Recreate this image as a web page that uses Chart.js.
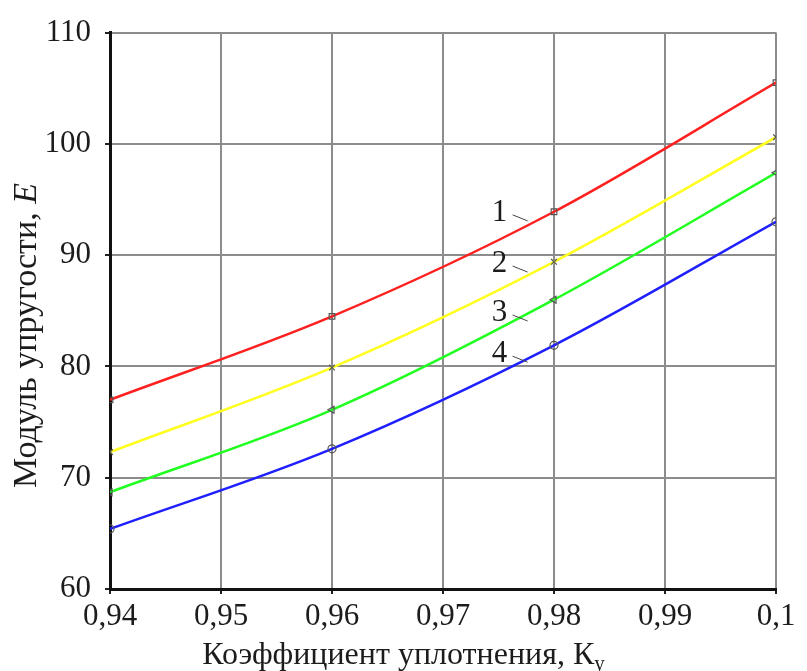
<!DOCTYPE html>
<html>
<head>
<meta charset="utf-8">
<script src="https://cdn.jsdelivr.net/npm/chart.js@4/dist/chart.umd.min.js"></script>
<style>
  html, body { margin: 0; padding: 0; background: #fff; }
  #wrap { width: 807px; height: 671px; }
</style>
</head>
<body>
<div id="wrap"><canvas id="chart"></canvas></div>
<script>
// values
const xValues = [0.94, 0.96, 0.98, 1.0];
const curve1 = [77.0, 84.5, 93.9, 105.5];
const curve2 = [72.3, 79.9, 89.4, 100.6];
const curve3 = [68.7, 76.1, 86.0, 97.4];
const curve4 = [65.4, 72.6, 81.9, 93.0];
const xTicks = [0.94, 0.95, 0.96, 0.97, 0.98, 0.99, 1.0];
const xTickLabels = ['0,94', '0,95', '0,96', '0,97', '0,98', '0,99', '0,1'];
const yTicks = [60, 70, 80, 90, 100, 110];
const curveNames = ['1', '2', '3', '4'];
const nameX = [0.9751, 0.9751, 0.9751, 0.9751];
const nameY = [93.8, 89.2, 84.8, 81.1];

const serif = "'Liberation Serif', 'DejaVu Serif', serif";
const ink = '#1c1c1c';

function makeSet(vals, color, style, rot) {
    return {
        data: xValues.map((x, i) => ({ x: x, y: vals[i] })),
        borderColor: color,
        borderWidth: 2.5,
        cubicInterpolationMode: 'monotone',
        pointStyle: style,
        pointRotation: rot || 0,
        pointRadius: 4,
        pointBorderWidth: 1.2,
        pointBorderColor: '#555',
        pointBackgroundColor: 'rgba(0,0,0,0)'
    };
}

// numbers 1-4 with short leader lines
const curveLabels = {
    id: 'curveLabels',
    afterDatasetsDraw(chart) {
        const ctx = chart.ctx;
        const xs = chart.scales.x, ys = chart.scales.y;
        ctx.save();
        ctx.font = '31px ' + serif;
        ctx.fillStyle = ink;
        ctx.strokeStyle = '#444';
        ctx.lineWidth = 1;
        ctx.textAlign = 'center';
        ctx.textBaseline = 'middle';
        curveNames.forEach((t, i) => {
            const px = xs.getPixelForValue(nameX[i]);
            const py = ys.getPixelForValue(nameY[i]);
            ctx.fillText(t, px, py);
            ctx.beginPath();
            ctx.moveTo(px + 13, py + 2);
            ctx.lineTo(px + 28, py + 8);
            ctx.stroke();
        });
        ctx.restore();
    }
};

// axis titles: subscript "у" and italic "E"
const axisTitles = {
    id: 'axisTitles',
    afterDraw(chart) {
        const ctx = chart.ctx;
        const w = chart.width, h = chart.height;
        ctx.save();
        ctx.fillStyle = ink;
        ctx.textBaseline = 'alphabetic';
        ctx.textAlign = 'left';

        // x title
        const xMain = 'Коэффициент уплотнения, К';
        const xSub = 'у';
        ctx.font = '32px ' + serif;
        const w1 = ctx.measureText(xMain).width;
        ctx.font = '21px ' + serif;
        const w2 = ctx.measureText(xSub).width;
        let x0 = w / 2 - (w1 + w2) / 2;
        ctx.font = '32px ' + serif;
        ctx.fillText(xMain, x0, h - 7);
        ctx.font = '21px ' + serif;
        ctx.fillText(xSub, x0 + w1, h - 1);

        // y title
        const yMain = 'Модуль упругости, ';
        const yIt = 'E';
        ctx.font = '34px ' + serif;
        const v1 = ctx.measureText(yMain).width;
        ctx.font = 'italic 34px ' + serif;
        const v2 = ctx.measureText(yIt).width;
        ctx.translate(36, h / 2);
        ctx.rotate(-Math.PI / 2);
        const y0 = -(v1 + v2) / 2;
        ctx.font = '34px ' + serif;
        ctx.fillText(yMain, y0, 0);
        ctx.font = 'italic 34px ' + serif;
        ctx.fillText(yIt, y0 + v1, 0);
        ctx.restore();
    }
};

new Chart(document.getElementById('chart'), {
    type: 'line',
    data: {
        datasets: [
            makeSet(curve1, '#ff2020', 'rect'),
            makeSet(curve2, '#ffff20', 'crossRot'),
            makeSet(curve3, '#20ff20', 'triangle', -90),
            makeSet(curve4, '#2020ff', 'circle')
        ]
    },
    options: {
        responsive: true,
        maintainAspectRatio: false,
        animation: false,
        layout: { padding: { left: 0, right: 31, top: 32, bottom: 0 } },
        plugins: { legend: { display: false }, tooltip: { enabled: false } },
        scales: {
            x: {
                type: 'linear',
                min: 0.94,
                max: 1.0,
                afterBuildTicks: (s) => { s.ticks = xTicks.map(v => ({ value: v })); },
                afterFit: (s) => { s.height = 82; },
                ticks: {
                    callback: (v, i) => xTickLabels[i],
                    font: { family: serif, size: 31 },
                    color: ink,
                    padding: 4,
                    maxRotation: 0
                },
                grid: { color: '#8c8c8c', lineWidth: 2, tickLength: 5, tickColor: '#222' },
                border: { color: '#111', width: 3 }
            },
            y: {
                min: 60,
                max: 110,
                afterBuildTicks: (s) => { s.ticks = yTicks.map(v => ({ value: v })); },
                afterFit: (s) => { s.width = 110; },
                ticks: {
                    font: { family: serif, size: 31 },
                    color: ink,
                    padding: 14
                },
                grid: { color: '#8c8c8c', lineWidth: 2, tickLength: 5, tickColor: '#222' },
                border: { color: '#111', width: 3 }
            }
        }
    },
    plugins: [curveLabels, axisTitles]
});
</script>
</body>
</html>
